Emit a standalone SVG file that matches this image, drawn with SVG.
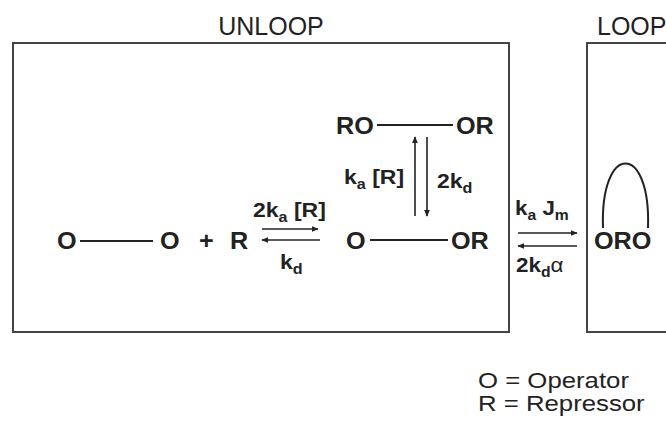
<svg xmlns="http://www.w3.org/2000/svg" width="666" height="424" viewBox="0 0 666 424">
<defs>
<marker id="ah" viewBox="0 0 10 10" refX="9" refY="5" markerWidth="7" markerHeight="6" orient="auto" markerUnits="userSpaceOnUse" preserveAspectRatio="none">
<path d="M0,0 L10,5 L0,10 z" fill="#222"/>
</marker>
<style>
text{font-family:"Liberation Sans",Arial,sans-serif;fill:#222}
.ti{font-size:25px}
.lg{font-size:23px}
.b{font-size:24px;font-weight:bold}
.r{font-size:20px;font-weight:bold}
.s{font-size:14px;font-weight:bold}
.al{font-size:20px;font-weight:normal}
.box{fill:none;stroke:#444;stroke-width:2}
.ln{stroke:#222;stroke-width:2;fill:none}
.ar{stroke:#222;stroke-width:1.6;fill:none;marker-end:url(#ah)}
</style>
</defs>
<rect width="666" height="424" fill="#fff"/>
<g id="unloop-box">
<rect class="box" x="13" y="43" width="496" height="289"/>
<text class="ti" x="271" y="35" text-anchor="middle">UNLOOP</text>
</g>
<g id="loop-box">
<rect class="box" x="587" y="43" width="100" height="289"/>
<text class="ti" x="597" y="35">LOOP</text>
</g>
<g id="free">
<text class="b" transform="translate(57,249) scale(1.05,1)">O</text>
<line class="ln" x1="80" y1="241" x2="153" y2="241"/>
<text class="b" transform="translate(160,249) scale(1.05,1)">O</text>
<text class="b" transform="translate(199,249) scale(1.05,1)">+</text>
<text class="b" transform="translate(230,249) scale(1.05,1)">R</text>
</g>
<g id="single">
<text class="b" transform="translate(346,249) scale(1.05,1)">O</text>
<line class="ln" x1="370" y1="240" x2="448" y2="240"/>
<text class="b" transform="translate(451,249) scale(1.05,1)">OR</text>
</g>
<g id="double">
<text class="b" transform="translate(336,134) scale(1.05,1)">RO</text>
<line class="ln" x1="377" y1="125" x2="453" y2="125"/>
<text class="b" transform="translate(456,134) scale(1.05,1)">OR</text>
</g>
<g id="looped">
<path class="ln" d="M603,228 C600,142 651,142 648,228"/>
<text class="b" transform="translate(594,249) scale(1.05,1)">ORO</text>
</g>
<g id="legend">
<text class="lg" transform="translate(478,388) scale(1.12,1)">O = Operator</text>
<text class="lg" transform="translate(478,411) scale(1.12,1)">R = Repressor</text>
</g>
<g id="connectors">
<line class="ar" x1="262" y1="229" x2="318" y2="229"/>
<line class="ar" x1="320" y1="240" x2="262" y2="240"/>
<line class="ar" x1="415" y1="216" x2="415" y2="137"/>
<line class="ar" x1="427" y1="137" x2="427" y2="216"/>
<line class="ar" x1="518" y1="233" x2="577" y2="233"/>
<line class="ar" x1="577" y1="246" x2="518" y2="246"/>
<text class="r" transform="translate(253,217) scale(1.15,1)">2k<tspan class="s" dy="5">a</tspan><tspan dy="-5"> [R]</tspan></text>
<text class="r" transform="translate(280,269) scale(1.15,1)">k<tspan class="s" dy="5">d</tspan></text>
<text class="r" transform="translate(344,184) scale(1.15,1)">k<tspan class="s" dy="5">a</tspan><tspan dy="-5"> [R]</tspan></text>
<text class="r" transform="translate(437,188) scale(1.15,1)">2k<tspan class="s" dy="5">d</tspan></text>
<text class="r" transform="translate(515,215) scale(1.12,1)">k<tspan class="s" dy="5">a</tspan><tspan dy="-5"> J</tspan><tspan class="s" dy="5">m</tspan></text>
<text class="r" transform="translate(516,272) scale(1.12,1)">2k<tspan class="s" dy="5">d</tspan><tspan class="al" dy="-5">α</tspan></text>
</g>
</svg>
